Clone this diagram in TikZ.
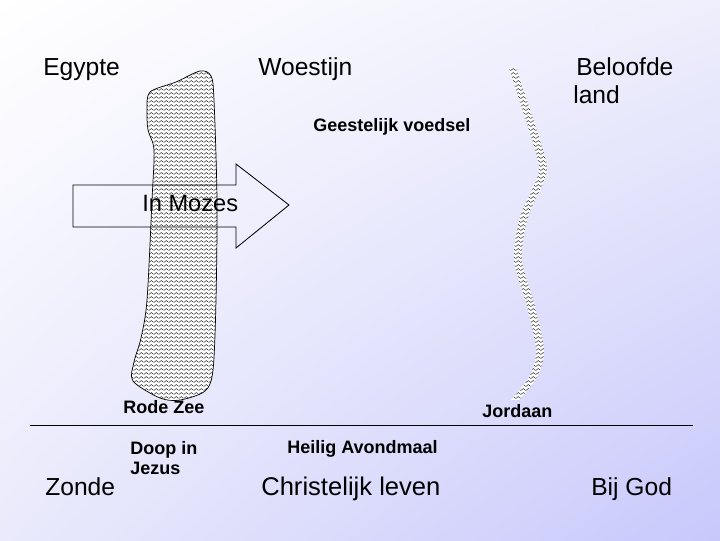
\documentclass[tikz,border=0pt]{standalone}
\usepackage{fontspec}
\setmainfont{Liberation Sans}
\usepackage{tikz}
\usetikzlibrary{patterns,shadings}

\definecolor{bgcorner}{RGB}{200,200,252}
\definecolor{bgmidA}{RGB}{238,238,252}
\definecolor{bgmidB}{RGB}{234,234,252}

% small zigzag hatch for the water
\pgfdeclarepatternformonly{zigzag}{\pgfpointorigin}{\pgfqpoint{3.4pt}{2.5pt}}{\pgfqpoint{3.4pt}{2.5pt}}{
  \pgfsetlinewidth{0.3pt}
  \pgfpathmoveto{\pgfqpoint{0pt}{0.5pt}}
  \pgfpathlineto{\pgfqpoint{1.7pt}{2pt}}
  \pgfpathlineto{\pgfqpoint{3.4pt}{0.5pt}}
  \pgfusepath{stroke}}

\begin{document}
\begin{tikzpicture}[x=0.025cm,y=-0.025cm,
  big/.style={anchor=base west,inner sep=0pt,font=\fontsize{17.5}{20}\selectfont},
  small/.style={anchor=base west,inner sep=0pt,font=\fontsize{12.8}{14.5}\selectfont\bfseries}]
  \shade[upper left=white,upper right=bgmidA,lower left=bgmidB,lower right=bgcorner]
    (0,0) rectangle (720,540);
  \useasboundingbox (0,0) rectangle (720,540);

  % Rode Zee
  \filldraw[fill=white,draw=black,line width=0.5pt] plot[smooth cycle,tension=0.5] coordinates
    {(150,92) (176,82) (200,71) (211,76) (214,100) (217,200) (216,300) (213,370)
     (205,391) (180,400) (160,398) (133,381) (134,362) (141,338) (147,300)
     (152,200) (154,150) (148,130) (147,110)};
  \fill[pattern=zigzag] plot[smooth cycle,tension=0.5] coordinates
    {(150,92) (176,82) (200,71) (211,76) (214,100) (217,200) (216,300) (213,370)
     (205,391) (180,400) (160,398) (133,381) (134,362) (141,338) (147,300)
     (152,200) (154,150) (148,130) (147,110)};

  % Jordaan
  \fill[white] plot[smooth] coordinates
    {(509,68) (535,150) (538,175) (520,217) (514,260) (526,303) (536,350) (529,377) (511,400)}
    -- plot[smooth] coordinates
    {(519,400) (537,377) (544,350) (534,303) (522,260) (528,217) (546,175) (543,150) (516,68)}
    -- cycle;
  \fill[pattern=zigzag] plot[smooth] coordinates
    {(509,68) (535,150) (538,175) (520,217) (514,260) (526,303) (536,350) (529,377) (511,400)}
    -- plot[smooth] coordinates
    {(519,400) (537,377) (544,350) (534,303) (522,260) (528,217) (546,175) (543,150) (516,68)}
    -- cycle;

  % In Mozes
  \draw[line width=0.6pt] (73,185) -- (236,185) -- (236,164) -- (289,205)
    -- (236,248) -- (236,227) -- (73,227) -- cycle;
  \node[big,font=\fontsize{16.8}{20}\selectfont] (mozes) at (142,211) {In Mozes};

  \node[big] (egypte) at (43,75) {Egypte};
  \node[big] (woestijn) at (258,75) {Woestijn};
  \node[big] (beloofde) at (576,75) {Beloofde};
  \node[big] (land) at (573,103) {land};
  \node[small] (voedsel) at (313,131) {Geestelijk voedsel};
  \node[small] (rodezee) at (123,413) {Rode Zee};
  \node[small] (jordaan) at (482,417) {Jordaan};

  \coordinate (lijnL) at (30,425);
  \coordinate (lijnR) at (693,425);
  \draw[line width=0.6pt] (lijnL) -- (lijnR);

  \node[small] (doop) at (130,454) {Doop in};
  \node[small] (jezus) at (130,474) {Jezus};
  \node[small] (avondmaal) at (287,453) {Heilig Avondmaal};
  \node[big] (zonde) at (45,495) {Zonde};
  \node[big,font=\fontsize{18.2}{20}\selectfont] (leven) at (261,495) {Christelijk leven};
  \node[big] (god) at (591,495) {Bij God};
\end{tikzpicture}
\end{document}
